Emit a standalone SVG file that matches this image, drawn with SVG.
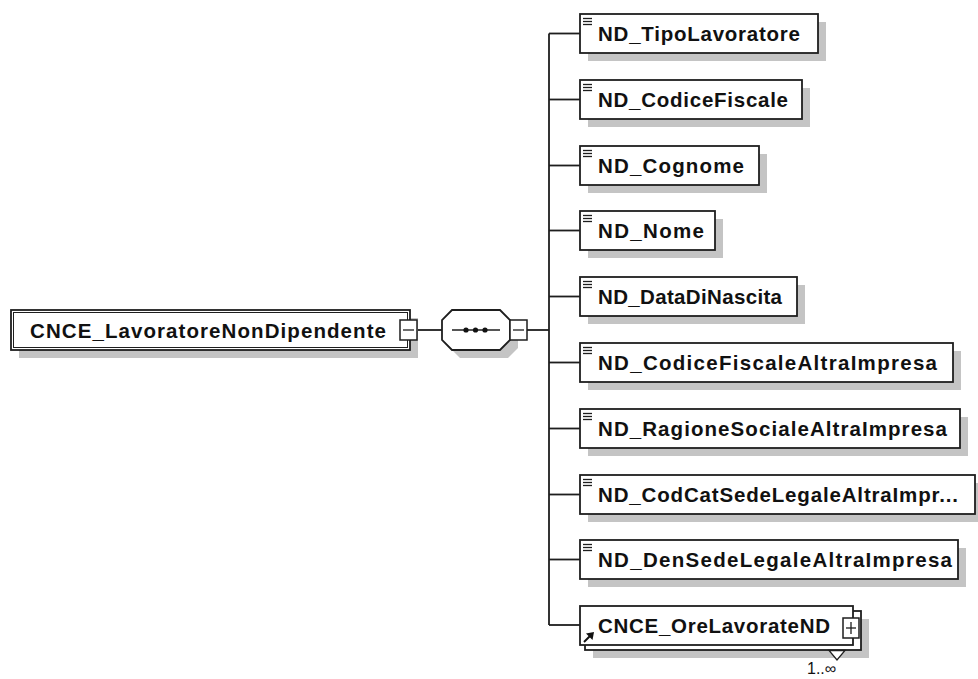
<svg xmlns="http://www.w3.org/2000/svg" width="978" height="679" viewBox="0 0 978 679">
<style>
.shadow{fill:#c4c4c4;stroke:none}
.box{fill:#fff;stroke:#1e1e1e;stroke-width:1.8}
.inner{fill:none;stroke:#1e1e1e;stroke-width:1}
.lbl{font-family:"Liberation Sans",Arial,sans-serif;font-weight:bold;font-size:20.5px;fill:#111}
.conn{fill:none;stroke:#1e1e1e;stroke-width:1.8}
.icon{stroke:#1e1e1e;stroke-width:1.3}
.pm{fill:#fff;stroke:#1e1e1e;stroke-width:1.5}
.card{font-family:"Liberation Sans",Arial,sans-serif;font-size:16px;fill:#111}
</style>
<defs>
<g id="elIcon"><line class="icon" x1="583" y1="0" x2="592" y2="0"/><line class="icon" x1="583" y1="3" x2="592" y2="3"/><line class="icon" x1="583" y1="6" x2="592" y2="6"/></g>
</defs>
<rect width="978" height="679" fill="#fff"/>

<g id="connectors">
<line class="conn" x1="417" y1="330" x2="442" y2="330"/>
<line class="conn" x1="527" y1="330" x2="549" y2="330"/>
<line class="conn" x1="549" y1="33.5" x2="549" y2="625"/>
<line class="conn" x1="549" y1="33.5" x2="580" y2="33.5"/>
<line class="conn" x1="549" y1="99.5" x2="580" y2="99.5"/>
<line class="conn" x1="549" y1="165.5" x2="580" y2="165.5"/>
<line class="conn" x1="549" y1="230.5" x2="580" y2="230.5"/>
<line class="conn" x1="549" y1="296.5" x2="580" y2="296.5"/>
<line class="conn" x1="549" y1="362.5" x2="580" y2="362.5"/>
<line class="conn" x1="549" y1="428.5" x2="580" y2="428.5"/>
<line class="conn" x1="549" y1="494.5" x2="580" y2="494.5"/>
<line class="conn" x1="549" y1="559.5" x2="580" y2="559.5"/>
<line class="conn" x1="549" y1="625" x2="580" y2="625"/>
</g>

<g id="CNCE_LavoratoreNonDipendente">
<rect class="shadow" x="19" y="318" width="399" height="40"/>
<rect class="box" x="11" y="310" width="399" height="40"/>
<rect class="inner" x="13.5" y="312.5" width="394" height="35"/>
<text class="lbl" x="30" y="337.5" textLength="356" lengthAdjust="spacing">CNCE_LavoratoreNonDipendente</text>
<rect class="pm" x="400" y="320" width="17" height="20"/>
<line class="icon" x1="403" y1="330" x2="414" y2="330"/>
</g>

<g id="sequence">
<polygon class="shadow" points="460,318 508,318 518,328 518,348 508,358 460,358 450,348 450,328"/>
<polygon class="box" points="452,310 500,310 510,320 510,340 500,350 452,350 442,340 442,320"/>
<line class="icon" x1="452" y1="330" x2="500" y2="330"/>
<circle cx="466" cy="330" r="2.6" fill="#111"/>
<circle cx="475.5" cy="330" r="2.6" fill="#111"/>
<circle cx="485" cy="330" r="2.6" fill="#111"/>
<rect class="pm" x="510" y="320" width="17" height="20"/>
<line class="icon" x1="513" y1="330" x2="524" y2="330"/>
</g>

<g id="ND_TipoLavoratore">
<rect class="shadow" x="588" y="22" width="238" height="39"/>
<rect class="box" x="580" y="14" width="238" height="39"/>
<use href="#elIcon" y="18.5"/>
<text class="lbl" x="598" y="40.5" textLength="202" lengthAdjust="spacing">ND_TipoLavoratore</text>
</g>

<g id="ND_CodiceFiscale">
<rect class="shadow" x="588" y="88" width="222" height="39"/>
<rect class="box" x="580" y="80" width="222" height="39"/>
<use href="#elIcon" y="84.5"/>
<text class="lbl" x="598" y="106.5" textLength="190" lengthAdjust="spacing">ND_CodiceFiscale</text>
</g>

<g id="ND_Cognome">
<rect class="shadow" x="588" y="154" width="179" height="39"/>
<rect class="box" x="580" y="146" width="179" height="39"/>
<use href="#elIcon" y="150.5"/>
<text class="lbl" x="598" y="172.5" textLength="146" lengthAdjust="spacing">ND_Cognome</text>
</g>

<g id="ND_Nome">
<rect class="shadow" x="588" y="219" width="135" height="39"/>
<rect class="box" x="580" y="211" width="135" height="39"/>
<use href="#elIcon" y="215.5"/>
<text class="lbl" x="598" y="237.5" textLength="106" lengthAdjust="spacing">ND_Nome</text>
</g>

<g id="ND_DataDiNascita">
<rect class="shadow" x="588" y="285" width="217" height="39"/>
<rect class="box" x="580" y="277" width="217" height="39"/>
<use href="#elIcon" y="281.5"/>
<text class="lbl" x="598" y="303.5" textLength="184" lengthAdjust="spacing">ND_DataDiNascita</text>
</g>

<g id="ND_CodiceFiscaleAltraImpresa">
<rect class="shadow" x="588" y="351" width="373" height="39"/>
<rect class="box" x="580" y="343" width="373" height="39"/>
<use href="#elIcon" y="347.5"/>
<text class="lbl" x="598" y="369.5" textLength="339" lengthAdjust="spacing">ND_CodiceFiscaleAltraImpresa</text>
</g>

<g id="ND_RagioneSocialeAltraImpresa">
<rect class="shadow" x="588" y="417" width="380" height="39"/>
<rect class="box" x="580" y="409" width="380" height="39"/>
<use href="#elIcon" y="413.5"/>
<text class="lbl" x="598" y="435.5" textLength="349" lengthAdjust="spacing">ND_RagioneSocialeAltraImpresa</text>
</g>

<g id="ND_CodCatSedeLegaleAltraImpr">
<rect class="shadow" x="588" y="483" width="395" height="39"/>
<rect class="box" x="580" y="475" width="395" height="39"/>
<use href="#elIcon" y="479.5"/>
<text class="lbl" x="598" y="501.5" textLength="360" lengthAdjust="spacing">ND_CodCatSedeLegaleAltraImpr...</text>
</g>

<g id="ND_DenSedeLegaleAltraImpresa">
<rect class="shadow" x="588" y="548" width="378" height="39"/>
<rect class="box" x="580" y="540" width="378" height="39"/>
<use href="#elIcon" y="544.5"/>
<text class="lbl" x="598" y="566.5" textLength="354" lengthAdjust="spacing">ND_DenSedeLegaleAltraImpresa</text>
</g>

<g id="CNCE_OreLavorateND">
<rect class="shadow" x="593" y="619" width="276" height="39"/>
<rect class="box" x="585" y="611" width="276" height="39"/>
<rect class="box" x="580" y="606" width="273" height="39"/>
<text class="lbl" x="598" y="632.5" textLength="232" lengthAdjust="spacing">CNCE_OreLavorateND</text>
<line x1="584" y1="642" x2="591" y2="635" stroke="#111" stroke-width="2"/>
<polygon points="594,632 586,633.5 592.5,640" fill="#111"/>
<rect class="pm" x="843" y="618" width="16" height="20"/>
<line class="icon" x1="846" y1="628" x2="856" y2="628"/>
<line class="icon" x1="851" y1="622" x2="851" y2="634"/>
<polygon points="829,650.5 845,650.5 837,660" fill="#fff" stroke="#1e1e1e" stroke-width="1.3"/>
<text class="card" x="807" y="674">1..∞</text>
</g>
</svg>
